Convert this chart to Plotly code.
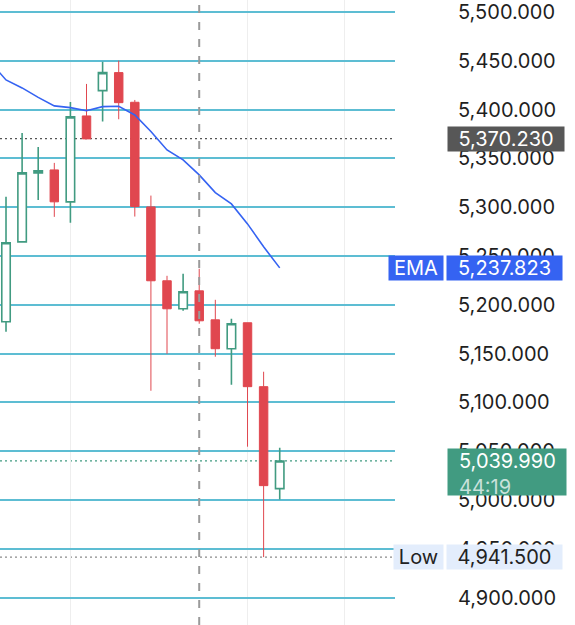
import plotly.graph_objects as go

# candle index (one per bar)
bar_idx = list(range(1, 19))
open_px = [5182.6, 5264.5, 5335.2, 5338.2, 5305.5, 5393.5, 5419.4, 5437.9, 5407.5,
           5300.3, 5224.6, 5195.9, 5214.3, 5184.6, 5155.0, 5181.6, 5116.1, 5011.6]
high_px = [5310.6, 5376.1, 5361.8, 5345.4, 5407.9, 5426.3, 5449.1, 5450.1, 5409.9,
           5311.9, 5229.7, 5231.8, 5236.9, 5205.1, 5185.7, 5181.6, 5131.4, 5053.6]
low_px = [5172.4, 5264.5, 5307.5, 5290.1, 5284.0, 5370.0, 5387.7, 5390.1, 5290.4,
          5111.9, 5149.8, 5193.9, 5180.6, 5146.8, 5118.1, 5054.6, 4941.5, 5000.4]
close_px = [5263.5, 5335.2, 5337.2, 5305.5, 5392.5, 5370.0, 5437.9, 5407.1, 5300.7,
            5224.6, 5195.9, 5213.3, 5183.6, 5155.0, 5180.6, 5116.1, 5014.7, 5039.99]

# EMA line (starts one bar before the first visible candle)
ema_idx = list(range(0, 19))
ema_vals = [5449.0, 5430.4, 5422.2, 5412.5, 5403.8, 5402.0, 5398.9, 5403.0, 5403.4, 5394.5,
            5377.5, 5358.7, 5348.5, 5333.1, 5315.0, 5303.4, 5282.9, 5259.4, 5237.823]

price_ticks = [4900, 4950, 5000, 5050, 5100, 5150, 5200, 5250, 5300, 5350, 5400, 5450, 5500]
time_grid = [5, 16, 22]
session_mark = 13

prev_close = 5370.23
last_price = 5039.99
session_low = 4941.5
countdown = "44:19"

GREEN = "#419B81"
RED = "#E0474F"
BLUE = "#3563F2"
FONT = "Inter"
FSIZE = 20

W, H = 575, 625
PLOT_RIGHT = 395 / W


def fmt(v):
    return f"{v:,.3f}"


fig = go.Figure()

fig.add_trace(go.Scatter(
    x=ema_idx, y=ema_vals, mode="lines",
    line=dict(color=BLUE, width=1.6), hoverinfo="skip", showlegend=False))

fig.add_trace(go.Candlestick(
    x=bar_idx, open=open_px, high=high_px, low=low_px, close=close_px,
    increasing=dict(line=dict(color=GREEN, width=1.6), fillcolor="white"),
    decreasing=dict(line=dict(color=RED, width=1), fillcolor=RED),
    whiskerwidth=0, showlegend=False))

# dotted price lines
for val, col in [(prev_close, "#555555"), (last_price, GREEN), (session_low, "#8a8a8a")]:
    fig.add_shape(type="line", xref="paper", yref="y", x0=0, x1=PLOT_RIGHT, y0=val, y1=val,
                  line=dict(color=col, width=1.3, dash="2px,3px"), layer="below")

# dashed session separator
fig.add_shape(type="line", xref="x", yref="paper", x0=session_mark, x1=session_mark, y0=0, y1=1,
              line=dict(color="#9a9a9a", width=2, dash="8px,9px"))


def badge(text, y, xc, w, h, bg, color="white", yshift=0):
    fig.add_annotation(text=text, xref="paper", yref="y", x=xc / W, y=y, xanchor="center",
                       yanchor="middle", showarrow=False, width=w - 2, height=h - 2,
                       bgcolor=bg, borderpad=0, yshift=yshift,
                       font=dict(family=FONT, size=FSIZE, color=color))


badge(fmt(prev_close), prev_close, 506, 118, 26, "#575757")
badge("EMA", ema_vals[-1], 416, 56, 26, BLUE)
badge(fmt(ema_vals[-1]), ema_vals[-1], 504.5, 117, 26, BLUE)
badge("Low", session_low, 418.5, 51, 26, "#E3EDFC", color="#222222")
badge(fmt(session_low), session_low, 504.5, 117, 26, "#E3EDFC", color="#222222")

# last price box with countdown
badge("&nbsp;", last_price, 507, 120, 48, GREEN, yshift=-11)
fig.add_annotation(
    text=f"{fmt(last_price)}<br><span style='color:rgba(255,255,255,0.72)'>{countdown}</span>",
    xref="paper", yref="y", x=458 / W, y=last_price, xanchor="left", yanchor="top",
    yshift=13, align="left", showarrow=False, borderpad=0,
    font=dict(family=FONT, size=FSIZE, color="white"))

fig.update_layout(
    width=W, height=H,
    margin=dict(l=0, r=0, t=0, b=0),
    paper_bgcolor="white", plot_bgcolor="white",
    boxgap=0.25,
    xaxis=dict(domain=[0, PLOT_RIGHT], range=[0.627, 25.16], rangeslider=dict(visible=False),
               tickvals=time_grid, showticklabels=False, ticks="", showgrid=True,
               gridcolor="#EEEEEE", gridwidth=1, zeroline=False, showline=False),
    yaxis=dict(side="right", range=[4871.9, 5512.3], tickvals=price_ticks,
               ticktext=[fmt(v) for v in price_ticks], ticks="", ticklabelstandoff=62,
               showgrid=True, gridcolor="#5DBDD3", gridwidth=1.5, zeroline=False,
               showline=False, automargin=False,
               tickfont=dict(family=FONT, size=FSIZE, color="#1f1f1f")),
    hovermode=False,
)

fig.write_html("out.html", config={"displayModeBar": False},
               post_script="document.body.style.margin='0';")
